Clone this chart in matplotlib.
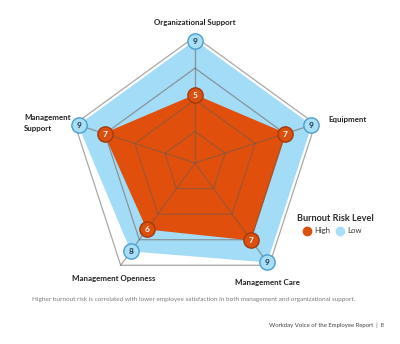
import numpy as np
import matplotlib.pyplot as plt

plt.rcParams['font.family'] = ['Lato', 'DejaVu Sans']

# categories clockwise from the top
categories = ['Organizational Support', 'Equipment', 'Management Care',
              'Management Openness', 'Management\nSupport']
high = [5, 7, 7, 6, 7]
low = [9, 9, 9, 8, 9]
r_max = 9.33
n_rings = 4

n = len(categories)
theta = np.pi / 2 - 2 * np.pi * np.arange(n) / n

def xy(vals):
    v = np.asarray(vals, dtype=float)
    return v * np.cos(theta), v * np.sin(theta)

# figure is 400x344 px, center of the radar at (195,163), 13.55 px per unit
fig = plt.figure(figsize=(4.0, 3.44), dpi=100)
ax = fig.add_axes([0, 0, 1, 1])
s = 13.55
ax.set_xlim(-195 / s, 205 / s)
ax.set_ylim(-(344 - 163) / s, 163 / s)
ax.set_aspect('equal')
ax.axis('off')

lo_col = '#a3dcf6'
hi_col = '#e04f0c'

lx, ly = xy(low)
ax.fill(lx, ly, color=lo_col, zorder=1)
hx, hy = xy(high)
ax.fill(hx, hy, color=hi_col, zorder=2)

# pentagon grid on top of the fills
for k in range(1, n_rings + 1):
    gx, gy = xy([r_max * k / n_rings] * n)
    gx = np.append(gx, gx[0])
    gy = np.append(gy, gy[0])
    outer = k == n_rings
    ax.plot(gx, gy, color='#a8a8a8' if outer else '#6e5a50',
            alpha=1 if outer else 0.55, lw=0.9, zorder=3)
ox, oy = xy([r_max] * n)
for i in range(n):
    ax.plot([0, ox[i]], [0, oy[i]], color='#6e5a50', alpha=0.55, lw=0.9, zorder=3)

# value markers
ax.plot(lx, ly, 'o', ms=11, mfc='#a9def7', mec='#4a9fcc', mew=1.0, ls='none', zorder=4)
ax.plot(hx, hy, 'o', ms=11, mfc='#d9500f', mec='#a53a08', mew=1.0, ls='none', zorder=5)
for i in range(n):
    ax.text(lx[i], ly[i] - 0.03, str(low[i]), ha='center', va='center',
            fontsize=6, fontweight='bold', color='#1d3548', zorder=6)
    ax.text(hx[i], hy[i] - 0.03, str(high[i]), ha='center', va='center',
            fontsize=6, fontweight='bold', color='white', zorder=6)

def px(x, y):
    return (x - 195) / s, (163 - y) / s

lab_kw = dict(fontsize=5.7, fontweight='bold', color='#222222')
ax.text(*px(195, 22), categories[0], ha='center', va='center', **lab_kw)
ax.text(*px(328, 120), categories[1], ha='left', va='center', **lab_kw)
ax.text(*px(267, 283), categories[2], ha='center', va='center', **lab_kw)
ax.text(*px(114, 279), categories[3], ha='center', va='center', **lab_kw)
ax.text(*px(24, 123), categories[4], ha='left', va='center', linespacing=1.6, **lab_kw)

# legend
ax.text(*px(297, 219), 'Burnout Risk Level', ha='left', va='center',
        fontsize=6.6, fontweight='bold', color='#2a2a2a')
ax.plot(*px(307, 231), 'o', ms=6, mfc='#d9500f', mec='#d9500f')
ax.text(*px(314, 231), 'High', ha='left', va='center', fontsize=5.6, color='#333333')
ax.plot(*px(340, 231), 'o', ms=6, mfc='#a9def7', mec='#a9def7')
ax.text(*px(347, 231), 'Low', ha='left', va='center', fontsize=5.6, color='#333333')

ax.text(*px(194, 300), 'Higher burnout risk is correlated with lower employee satisfaction '
        'in both management and organizational support.', ha='center', va='center',
        fontsize=4.6, color='#7a7a7a')
ax.text(*px(384, 325), 'Workday Voice of the Employee Report  |  8', ha='right', va='center',
        fontsize=4.3, color='#444444')

plt.savefig('out.png', dpi=100)
